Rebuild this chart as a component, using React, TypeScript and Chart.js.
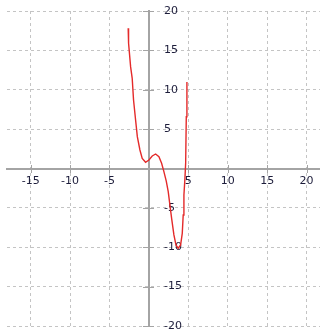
import { useEffect, useRef } from "react";
import { Chart, registerables } from "chart.js";

Chart.register(...registerables);

const xValues = [-2.63, -2.58, -2.32, -2.12, -1.95, -1.69, -1.47, -1.14, -0.85, -0.42, 0, 0.42, 0.85, 1.27, 1.61, 1.9, 2.2, 2.45, 2.66, 2.88, 3.17, 3.43, 3.72, 4.02, 4.23, 4.35, 4.44, 4.57, 4.66, 4.74, 4.82];
const yValues = [17.8, 15.9, 12.9, 11.45, 8.7, 6.16, 4.04, 2.35, 1.29, 0.79, 1.08, 1.59, 1.84, 1.5, 0.66, -0.4, -1.6, -2.95, -4.63, -6.33, -8.44, -9.71, -10.13, -9.71, -8.23, -5.9, -3.37, -1.25, 0.66, 6.58, 11.0];

const xTicks = [-15, -10, -5, 0, 5, 10, 15, 20];
const yTicks = [-20, -15, -10, -5, 0, 5, 10, 15, 20];

const X_MIN = -18;
const X_MAX = 21.7;
const Y_MIN = -20;
const Y_MAX = 20;

const AXIS_COLOR = "#a4a4a4";
const GRID_COLOR = "#c4c4c4";
const LABEL_COLOR = "#1c1c3a";
const FONT_FAMILY = '"DejaVu Sans", Verdana, sans-serif';

const axisDecor = {
  id: "axisDecor",
  beforeDatasetsDraw(chart: any) {
    const { ctx, scales } = chart;
    const xs = scales.x;
    const ys = scales.y;
    const x0 = Math.round(xs.getPixelForValue(0));
    const y0 = Math.round(ys.getPixelForValue(0));
    ctx.save();
    ctx.strokeStyle = AXIS_COLOR;
    ctx.lineWidth = 1;
    ctx.setLineDash([]);
    yTicks.forEach((v) => {
      if (v === 0) return;
      const py = Math.round(ys.getPixelForValue(v)) + 0.5;
      ctx.beginPath();
      ctx.moveTo(x0 - 6, py);
      ctx.lineTo(x0 + 5, py);
      ctx.stroke();
    });
    xTicks.forEach((v) => {
      if (v === 0) return;
      const px = Math.round(xs.getPixelForValue(v)) + 0.5;
      ctx.beginPath();
      ctx.moveTo(px, y0 - 4);
      ctx.lineTo(px, y0 + 4);
      ctx.stroke();
    });
    ctx.fillStyle = LABEL_COLOR;
    ctx.font = "11px " + FONT_FAMILY;
    ctx.textAlign = "left";
    ctx.textBaseline = "middle";
    yTicks.forEach((v) => {
      if (v === 0) return;
      ctx.fillText(String(v), x0 + 15, ys.getPixelForValue(v));
    });
    ctx.restore();
  },
};

export default function App() {
  const canvasRef = useRef<HTMLCanvasElement | null>(null);

  useEffect(() => {
    if (!canvasRef.current) return;
    const points = xValues.map((x, i) => ({ x, y: yValues[i] }));
    const chart = new Chart(canvasRef.current, {
      type: "line",
      data: {
        datasets: [
          {
            data: points,
            borderColor: "#e42a2a",
            borderWidth: 1.4,
            pointRadius: 0,
            tension: 0,
            fill: false,
          },
        ],
      },
      options: {
        animation: false,
        responsive: true,
        maintainAspectRatio: false,
        layout: { padding: { left: 7, right: 0, top: 11, bottom: 6 } },
        plugins: {
          legend: { display: false },
          tooltip: { enabled: false },
        },
        scales: {
          x: {
            type: "linear",
            min: X_MIN,
            max: X_MAX,
            position: { y: 0 } as any,
            afterBuildTicks: (s: any) => {
              s.ticks = xTicks.map((v) => ({ value: v }));
            },
            grid: { color: GRID_COLOR, lineWidth: 1, drawTicks: false },
            border: { display: true, color: AXIS_COLOR, width: 2, dash: [3, 3] },
            ticks: {
              padding: 6,
              color: LABEL_COLOR,
              font: { family: FONT_FAMILY, size: 11 },
              maxRotation: 0,
              autoSkip: false,
              callback: (v: any) => (v === 0 ? "" : String(v)),
            },
          },
          y: {
            type: "linear",
            min: Y_MIN,
            max: Y_MAX,
            position: { x: 0 } as any,
            afterBuildTicks: (s: any) => {
              s.ticks = yTicks.map((v) => ({ value: v }));
            },
            grid: { color: GRID_COLOR, lineWidth: 1, drawTicks: false },
            border: { display: true, color: AXIS_COLOR, width: 2, dash: [3, 3] },
            ticks: { display: false },
          },
        },
      },
      plugins: [axisDecor],
    });
    return () => chart.destroy();
  }, []);

  return (
    <div style={{ position: "fixed", left: 0, top: 0, width: 320, height: 332, background: "#fff" }}>
      <canvas ref={canvasRef} />
    </div>
  );
}
